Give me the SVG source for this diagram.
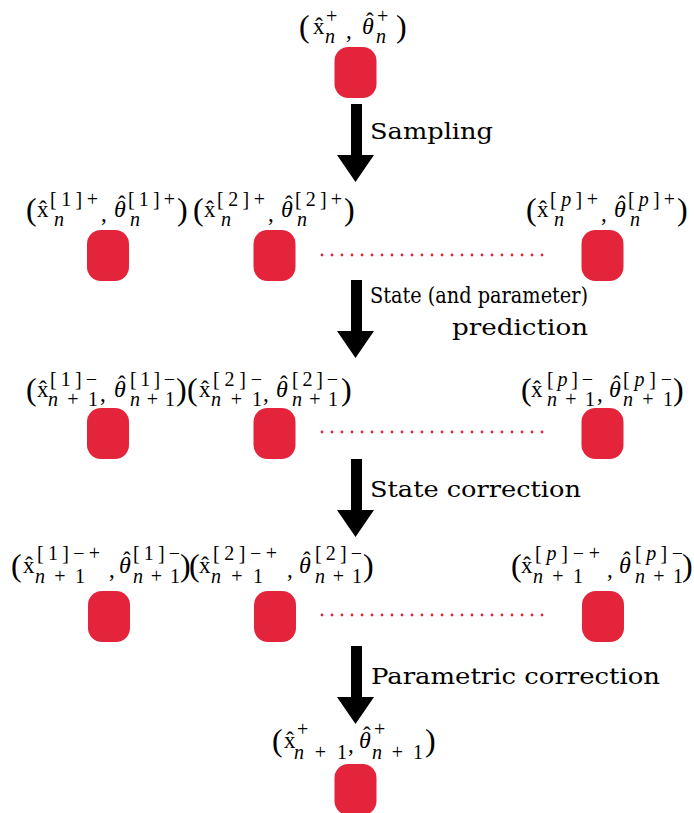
<svg xmlns="http://www.w3.org/2000/svg" width="694" height="813" viewBox="0 0 694 813">
<style>
.t{font-family:"Liberation Serif","DejaVu Serif",serif;fill:#000}
.pa{font-size:32px}
.mn{font-size:23px}
.th{font-size:24px;font-style:italic}
.it{font-style:italic}
.sc{font-size:20px}
.lb{font-family:"DejaVu Serif",serif;font-size:23px;fill:#000}
.nd{fill:#e3243b}
.dots{stroke:#e3243b;stroke-width:2.8;stroke-linecap:round;stroke-dasharray:0 10;fill:none}
.arr{fill:#000}
</style>
<defs>
<path id="arrow" d="M351,0 H362 V51 H374 L355.5,78 L337,51 H351 Z"/>
</defs>
<rect width="694" height="813" fill="#fff"/>

<g id="connectors">
<use href="#arrow" class="arr" transform="translate(0,104)"/>
<use href="#arrow" class="arr" transform="translate(0,280)"/>
<use href="#arrow" class="arr" transform="translate(0,459)"/>
<use href="#arrow" class="arr" transform="translate(0,646)"/>
<line class="dots" x1="322" y1="255" x2="552" y2="255"/>
<line class="dots" x1="322" y1="432" x2="552" y2="432"/>
<line class="dots" x1="322" y1="615" x2="552" y2="615"/>
</g>

<g id="step-labels">
<text class="lb" x="370" y="139" textLength="123" lengthAdjust="spacingAndGlyphs">Sampling</text>
<text class="lb" x="370" y="303" textLength="218" lengthAdjust="spacingAndGlyphs">State (and parameter)</text>
<text class="lb" x="452" y="335" textLength="136" lengthAdjust="spacingAndGlyphs">prediction</text>
<text class="lb" x="370" y="497" textLength="211" lengthAdjust="spacingAndGlyphs">State correction</text>
<text class="lb" x="371" y="684" textLength="289" lengthAdjust="spacingAndGlyphs">Parametric correction</text>
</g>

<!-- top node -->
<g id="node-top">
<rect class="nd" x="334.5" y="47" width="42" height="51" rx="14"/>
<text class="t pa" x="299" y="37">(</text>
<text class="t mn" x="313" y="34">x&#x302;</text>
<text class="t sc" x="326" y="23">+</text>
<text class="t sc it" x="325" y="43">n</text>
<text class="t mn" x="346" y="38">,</text>
<text class="t th" x="362" y="34">θ</text><text class="t mn" x="366" y="29">ˆ</text>
<text class="t sc" x="377" y="23">+</text>
<text class="t sc it" x="376" y="43">n</text>
<text class="t pa" x="396" y="37">)</text>
</g>

<!-- row 1 -->
<g id="node-r1-1">
<rect class="nd" x="87" y="230" width="42" height="51" rx="14"/>
<text class="t pa" x="26" y="220">(</text>
<text class="t mn" x="37" y="217">x&#x302;</text>
<text class="t sc" x="50" y="206" textLength="48" lengthAdjust="spacing">[1]+</text>
<text class="t sc it" x="54" y="226">n</text>
<text class="t mn" x="101" y="221">,</text>
<text class="t th" x="114" y="217">θ</text><text class="t mn" x="118" y="212">ˆ</text>
<text class="t sc" x="128" y="206" textLength="47" lengthAdjust="spacing">[1]+</text>
<text class="t sc it" x="130" y="226">n</text>
<text class="t pa" x="177" y="220">)</text>
</g>
<g id="node-r1-2">
<rect class="nd" x="253.5" y="230" width="42" height="51" rx="14"/>
<text class="t pa" x="193" y="220">(</text>
<text class="t mn" x="204" y="217">x&#x302;</text>
<text class="t sc" x="217" y="206" textLength="48" lengthAdjust="spacing">[2]+</text>
<text class="t sc it" x="221" y="226">n</text>
<text class="t mn" x="268" y="221">,</text>
<text class="t th" x="281" y="217">θ</text><text class="t mn" x="285" y="212">ˆ</text>
<text class="t sc" x="295" y="206" textLength="47" lengthAdjust="spacing">[2]+</text>
<text class="t sc it" x="297" y="226">n</text>
<text class="t pa" x="344" y="220">)</text>
</g>
<g id="node-r1-p">
<rect class="nd" x="581.5" y="230" width="42" height="51" rx="14"/>
<text class="t pa" x="526" y="220">(</text>
<text class="t mn" x="537" y="217">x&#x302;</text>
<text class="t sc" x="550" y="206" textLength="48" lengthAdjust="spacing">[<tspan class="it">p</tspan>]+</text>
<text class="t sc it" x="554" y="226">n</text>
<text class="t mn" x="601" y="221">,</text>
<text class="t th" x="614" y="217">θ</text><text class="t mn" x="618" y="212">ˆ</text>
<text class="t sc" x="628" y="206" textLength="47" lengthAdjust="spacing">[<tspan class="it">p</tspan>]+</text>
<text class="t sc it" x="630" y="226">n</text>
<text class="t pa" x="677" y="220">)</text>
</g>

<!-- row 2 -->
<g id="node-r2-1">
<rect class="nd" x="87" y="408" width="42" height="51" rx="14"/>
<text class="t pa" x="26" y="400">(</text>
<text class="t mn" x="37" y="397">x&#x302;</text>
<text class="t sc" x="50" y="386" textLength="47" lengthAdjust="spacing">[1]−</text>
<text class="t sc" x="48" y="406" textLength="50" lengthAdjust="spacing"><tspan class="it">n</tspan>+1</text>
<text class="t mn" x="100" y="401">,</text>
<text class="t th" x="114" y="397">θ</text><text class="t mn" x="118" y="392">ˆ</text>
<text class="t sc" x="130" y="386" textLength="45" lengthAdjust="spacing">[1]−</text>
<text class="t sc" x="130" y="406" textLength="45" lengthAdjust="spacing"><tspan class="it">n</tspan>+1</text>
<text class="t pa" x="176" y="400">)</text>
</g>
<g id="node-r2-2">
<rect class="nd" x="253.5" y="408" width="42" height="51" rx="14"/>
<text class="t pa" x="187" y="400">(</text>
<text class="t mn" x="199" y="397">x&#x302;</text>
<text class="t sc" x="213" y="386" textLength="49" lengthAdjust="spacing">[2]−</text>
<text class="t sc" x="211" y="406" textLength="51" lengthAdjust="spacing"><tspan class="it">n</tspan>+1</text>
<text class="t mn" x="263" y="401">,</text>
<text class="t th" x="276" y="397">θ</text><text class="t mn" x="280" y="392">ˆ</text>
<text class="t sc" x="292" y="386" textLength="46" lengthAdjust="spacing">[2]−</text>
<text class="t sc" x="292" y="406" textLength="46" lengthAdjust="spacing"><tspan class="it">n</tspan>+1</text>
<text class="t pa" x="341" y="400">)</text>
</g>
<g id="node-r2-p">
<rect class="nd" x="581.5" y="408" width="42" height="51" rx="14"/>
<text class="t pa" x="521" y="400">(</text>
<text class="t mn" x="531" y="397">x&#x302;</text>
<text class="t sc" x="547" y="386" textLength="46" lengthAdjust="spacing">[<tspan class="it">p</tspan>]−</text>
<text class="t sc" x="547" y="406" textLength="48" lengthAdjust="spacing"><tspan class="it">n</tspan>+1</text>
<text class="t mn" x="597" y="401">,</text>
<text class="t th" x="609" y="397">θ</text><text class="t mn" x="613" y="392">ˆ</text>
<text class="t sc" x="623" y="386" textLength="49" lengthAdjust="spacing">[<tspan class="it">p</tspan>]−</text>
<text class="t sc" x="623" y="406" textLength="50" lengthAdjust="spacing"><tspan class="it">n</tspan>+1</text>
<text class="t pa" x="673" y="400">)</text>
</g>

<!-- row 3 -->
<g id="node-r3-1">
<rect class="nd" x="88" y="591" width="42" height="51" rx="14"/>
<text class="t pa" x="11" y="576">(</text>
<text class="t mn" x="23" y="573">x&#x302;</text>
<text class="t sc" x="37" y="560" textLength="63" lengthAdjust="spacing">[1]−+</text>
<text class="t sc" x="35" y="583" textLength="50" lengthAdjust="spacing"><tspan class="it">n</tspan>+1</text>
<text class="t mn" x="109" y="577">,</text>
<text class="t th" x="119" y="573">θ</text><text class="t mn" x="123" y="568">ˆ</text>
<text class="t sc" x="133" y="560" textLength="47" lengthAdjust="spacing">[1]−</text>
<text class="t sc" x="133" y="583" textLength="47" lengthAdjust="spacing"><tspan class="it">n</tspan>+1</text>
<text class="t pa" x="180" y="576">)</text>
</g>
<g id="node-r3-2">
<rect class="nd" x="254" y="591" width="42" height="51" rx="14"/>
<text class="t pa" x="189" y="576">(</text>
<text class="t mn" x="199" y="573">x&#x302;</text>
<text class="t sc" x="213" y="560" textLength="64" lengthAdjust="spacing">[2]−+</text>
<text class="t sc" x="211" y="583" textLength="52" lengthAdjust="spacing"><tspan class="it">n</tspan>+1</text>
<text class="t mn" x="287" y="577">,</text>
<text class="t th" x="299" y="573">θ</text><text class="t mn" x="303" y="568">ˆ</text>
<text class="t sc" x="315" y="560" textLength="47" lengthAdjust="spacing">[2]−</text>
<text class="t sc" x="315" y="583" textLength="47" lengthAdjust="spacing"><tspan class="it">n</tspan>+1</text>
<text class="t pa" x="363" y="576">)</text>
</g>
<g id="node-r3-p">
<rect class="nd" x="582" y="591" width="42" height="51" rx="14"/>
<text class="t pa" x="511" y="576">(</text>
<text class="t mn" x="521" y="573">x&#x302;</text>
<text class="t sc" x="535" y="560" textLength="65" lengthAdjust="spacing">[<tspan class="it">p</tspan>]−+</text>
<text class="t sc" x="533" y="583" textLength="50" lengthAdjust="spacing"><tspan class="it">n</tspan>+1</text>
<text class="t mn" x="607" y="577">,</text>
<text class="t th" x="619" y="573">θ</text><text class="t mn" x="623" y="568">ˆ</text>
<text class="t sc" x="635" y="560" textLength="48" lengthAdjust="spacing">[<tspan class="it">p</tspan>]−</text>
<text class="t sc" x="635" y="583" textLength="48" lengthAdjust="spacing"><tspan class="it">n</tspan>+1</text>
<text class="t pa" x="682" y="576">)</text>
</g>

<!-- bottom node -->
<g id="node-bottom">
<rect class="nd" x="334.5" y="764" width="42" height="51" rx="14"/>
<text class="t pa" x="272" y="751">(</text>
<text class="t mn" x="284" y="748">x&#x302;</text>
<text class="t sc" x="297" y="736">+</text>
<text class="t sc" x="294" y="759" textLength="53" lengthAdjust="spacing"><tspan class="it">n</tspan>+1</text>
<text class="t mn" x="348" y="752">,</text>
<text class="t th" x="359" y="748">θ</text><text class="t mn" x="363" y="743">ˆ</text>
<text class="t sc" x="374" y="736">+</text>
<text class="t sc" x="372" y="759" textLength="51" lengthAdjust="spacing"><tspan class="it">n</tspan>+1</text>
<text class="t pa" x="425" y="751">)</text>
</g>
</svg>
